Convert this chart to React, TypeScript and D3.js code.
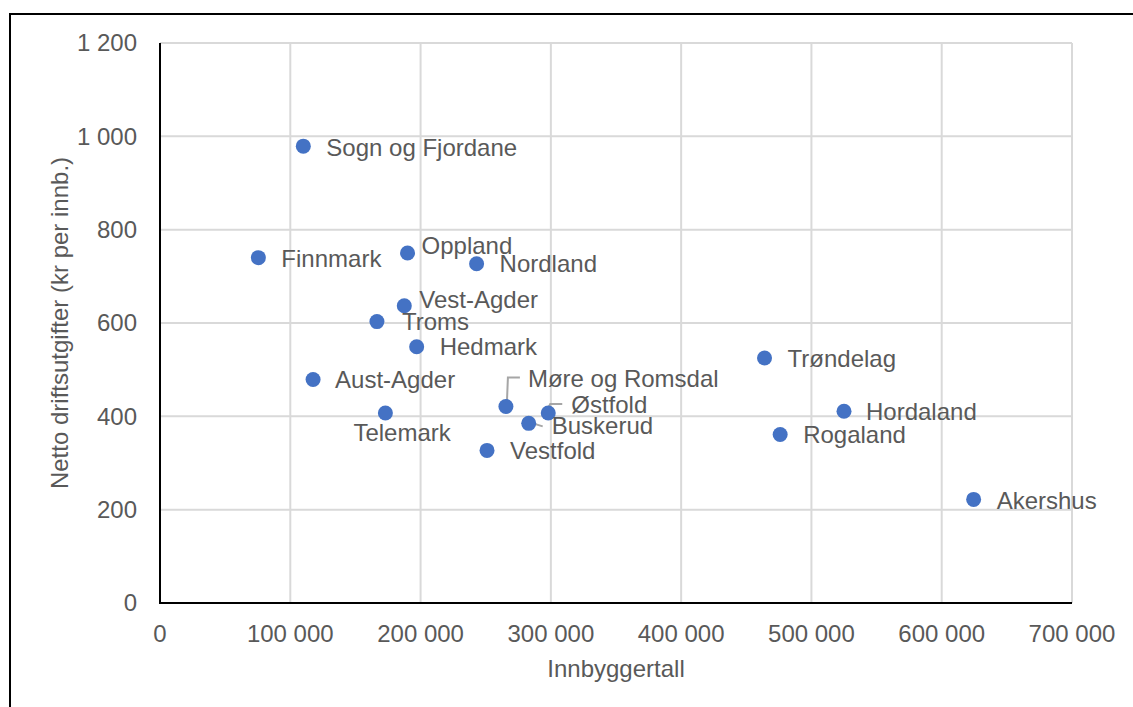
import React, { useEffect, useRef } from 'react';
import * as d3 from 'd3';

const fylker = [
    'Sogn og Fjordane', 'Finnmark', 'Oppland', 'Nordland', 'Vest-Agder', 'Troms',
    'Hedmark', 'Aust-Agder', 'Telemark', 'Møre og Romsdal', 'Østfold', 'Buskerud',
    'Vestfold', 'Trøndelag', 'Hordaland', 'Rogaland', 'Akershus',
];
const innbyggertall = [
    110000, 75500, 190000, 243000, 187500, 166500,
    197000, 117500, 173000, 265500, 298000, 283000,
    251000, 464000, 525000, 476000, 624500,
];
const driftsutgifter = [
    979, 740, 750, 727, 637, 603,
    549, 479, 407, 421, 407, 385,
    327, 525, 411, 361, 222,
];
const xTicks = [0, 100000, 200000, 300000, 400000, 500000, 600000, 700000];
const yTicks = [0, 200, 400, 600, 800, 1000, 1200];

// label placement (text start / vertical centre relative to the point)
const labelOffsets: [number, number][] = [
    [23, 1], [23, 1], [14, -7], [23, 0], [15, -6], [25, 0],
    [23, 0], [22, 0], [-32, 20], [22, -28], [23, -8], [23, 2],
    [23, 0], [23, 1], [22, 0], [23, 0], [23, 1],
];
const leaders: { name: string; pts: [number, number][] }[] = [
    { name: 'Møre og Romsdal', pts: [[1, -4], [2, -29], [14, -29]] },
    { name: 'Østfold', pts: [[-1, -3], [2, -9], [14, -9]] },
    { name: 'Buskerud', pts: [[1, -1], [14, 3]] },
];

const W = 1133;
const H = 707;
const margin = { left: 160, right: 61, top: 43, bottom: 104 };
const textColor = '#595959';
const font = '"Liberation Sans", Arial, sans-serif';

const fmt = (v: number) => d3.format(',')(v).replace(/,/g, ' ');

const App: React.FC = () => {
    const ref = useRef<SVGSVGElement>(null);

    useEffect(() => {
        const svg = d3.select(ref.current);
        svg.selectAll('*').remove();

        const x = d3.scaleLinear().domain([0, 700000]).range([margin.left, W - margin.right]);
        const y = d3.scaleLinear().domain([0, 1200]).range([H - margin.bottom, margin.top]);

        svg.append('rect')
            .attr('x', 10).attr('y', 14)
            .attr('width', W + 20).attr('height', H + 20)
            .attr('fill', 'white').attr('stroke', 'black').attr('stroke-width', 2);

        // gridlines
        svg.append('g').selectAll('line')
            .data(yTicks.slice(1))
            .enter().append('line')
            .attr('x1', x(0)).attr('x2', x(700000))
            .attr('y1', (d) => y(d)).attr('y2', (d) => y(d))
            .attr('stroke', '#d9d9d9').attr('stroke-width', 2);
        svg.append('g').selectAll('line')
            .data(xTicks.slice(1))
            .enter().append('line')
            .attr('x1', (d) => x(d)).attr('x2', (d) => x(d))
            .attr('y1', y(0)).attr('y2', y(1200))
            .attr('stroke', '#d9d9d9').attr('stroke-width', 2);

        // axis lines
        svg.append('line')
            .attr('x1', x(0)).attr('x2', x(0)).attr('y1', y(0)).attr('y2', y(1200))
            .attr('stroke', 'black').attr('stroke-width', 2);
        svg.append('line')
            .attr('x1', x(0) - 1).attr('x2', x(700000)).attr('y1', y(0)).attr('y2', y(0))
            .attr('stroke', 'black').attr('stroke-width', 2);

        // tick labels
        svg.append('g').selectAll('text')
            .data(yTicks)
            .enter().append('text')
            .attr('x', x(0) - 23)
            .attr('y', (d) => y(d))
            .attr('dy', '0.35em')
            .attr('text-anchor', 'end')
            .attr('font-family', font).attr('font-size', 24).attr('fill', textColor)
            .text((d) => fmt(d));
        svg.append('g').selectAll('text')
            .data(xTicks)
            .enter().append('text')
            .attr('x', (d) => x(d))
            .attr('y', y(0) + 31)
            .attr('dy', '0.35em')
            .attr('text-anchor', 'middle')
            .attr('font-family', font).attr('font-size', 24).attr('fill', textColor)
            .text((d) => fmt(d));

        // axis titles
        svg.append('text')
            .attr('x', (x(0) + x(700000)) / 2)
            .attr('y', 669)
            .attr('dy', '0.35em')
            .attr('text-anchor', 'middle')
            .attr('font-family', font).attr('font-size', 24).attr('fill', textColor)
            .text('Innbyggertall');
        svg.append('text')
            .attr('transform', `translate(60, ${(y(0) + y(1200)) / 2}) rotate(-90)`)
            .attr('dy', '0.35em')
            .attr('text-anchor', 'middle')
            .attr('font-family', font).attr('font-size', 24).attr('fill', textColor)
            .text('Netto driftsutgifter (kr per innb.)');

        const data = fylker.map((name, i) => ({
            name, x: innbyggertall[i], y: driftsutgifter[i], off: labelOffsets[i],
        }));

        // leader lines
        const line = d3.line();
        svg.append('g').selectAll('path')
            .data(leaders)
            .enter().append('path')
            .attr('d', (l) => {
                const d = data.find((p) => p.name === l.name)!;
                return line(l.pts.map(([dx, dy]) => [x(d.x) + dx, y(d.y) + dy]));
            })
            .attr('fill', 'none').attr('stroke', '#a6a6a6').attr('stroke-width', 2);

        svg.append('g').selectAll('circle')
            .data(data)
            .enter().append('circle')
            .attr('cx', (d) => x(d.x))
            .attr('cy', (d) => y(d.y))
            .attr('r', 7.5)
            .attr('fill', '#4472c4');

        svg.append('g').selectAll('text')
            .data(data)
            .enter().append('text')
            .attr('x', (d) => x(d.x) + d.off[0])
            .attr('y', (d) => y(d.y) + d.off[1])
            .attr('dy', '0.35em')
            .attr('font-family', font).attr('font-size', 24).attr('fill', textColor)
            .text((d) => d.name);
    }, []);

    return (
        <svg ref={ref} width={W} height={H}
            style={{ position: 'absolute', left: 0, top: 0, display: 'block', background: 'white' }} />
    );
};

export default App;
